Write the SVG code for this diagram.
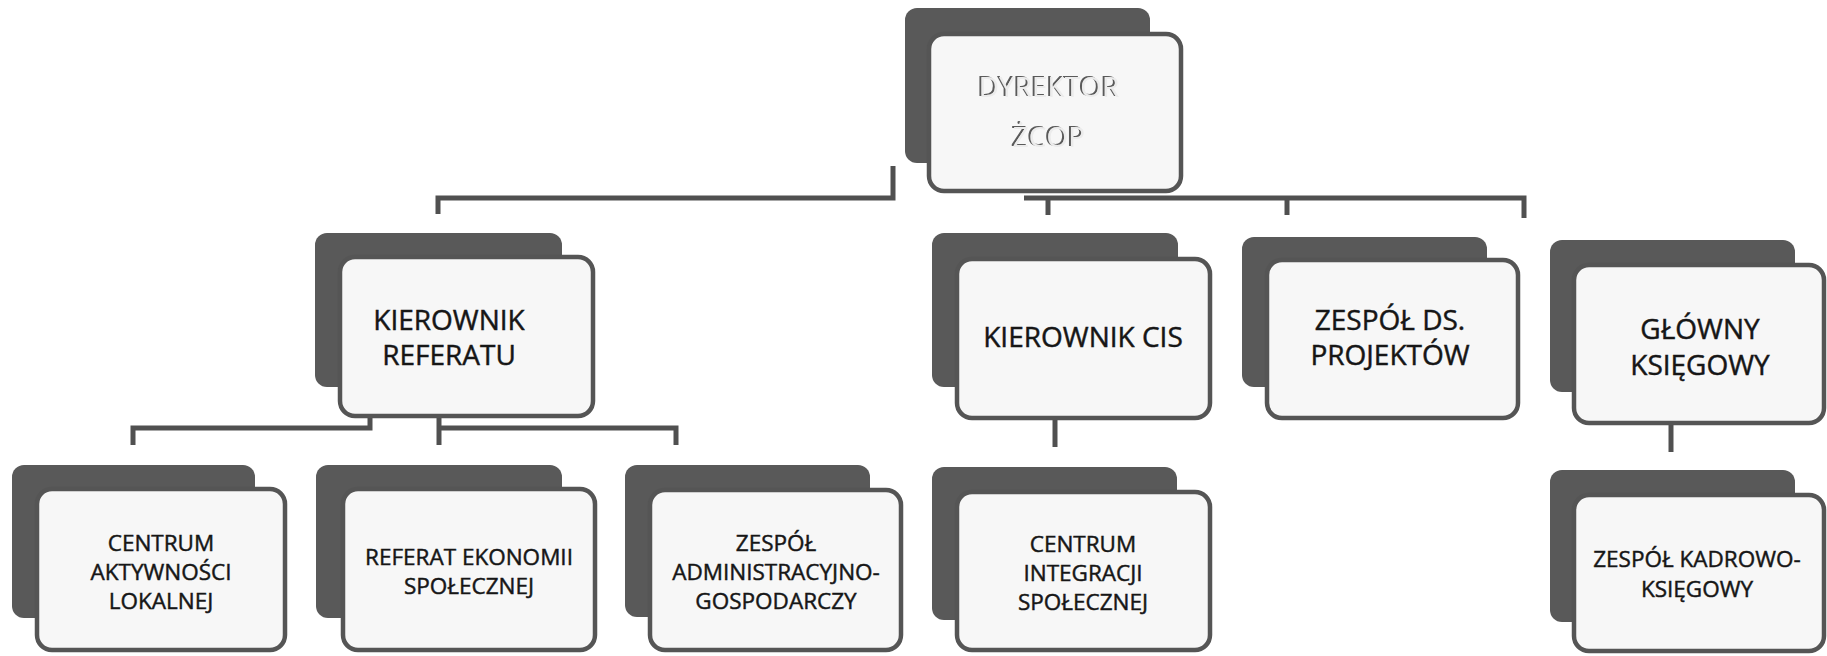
<svg xmlns="http://www.w3.org/2000/svg" width="1827" height="656" viewBox="0 0 1827 656">
<defs>
<style>
.bg{fill:#ffffff}
.dk{fill:#595959}
.wt{fill:#f7f7f7;stroke:#555555;stroke-width:4.5}
.t{font-family:"Open Sans","Liberation Sans",sans-serif;fill:#161616;stroke:#161616;stroke-width:0.45;text-anchor:middle}
.L{font-size:28px}
.S{font-size:22.5px}
.emb{font-family:"Open Sans","Liberation Sans",sans-serif;font-size:28px;fill:#ececec;text-anchor:middle}
.c{fill:none;stroke:#505050;stroke-width:5;stroke-linejoin:miter}
</style>
<filter id="engrave" x="-5%" y="-20%" width="110%" height="140%">
<feOffset in="SourceAlpha" dx="-1.6" dy="-1.2" result="off"/>
<feFlood flood-color="#5a5a5a" result="fl"/>
<feComposite in="fl" in2="off" operator="in" result="sh"/>
<feMerge><feMergeNode in="sh"/><feMergeNode in="SourceGraphic"/></feMerge>
</filter>
</defs>
<rect class="bg" x="0" y="0" width="1827" height="656"/>

<g id="connectors">
<path class="c" d="M893,166 V198 H438 V214"/>
<path class="c" d="M1024,198 H1524 V218"/>
<path class="c" d="M1048,198 V215"/>
<path class="c" d="M1287,198 V215"/>
<path class="c" d="M370,414 V428 H133 V445"/>
<path class="c" d="M439,414 V445"/>
<path class="c" d="M439,428 H676 V445"/>
<path class="c" d="M1055,418 V447"/>
<path class="c" d="M1671,424 V452"/>
</g>

<g id="node-dyrektor">
<rect class="dk" x="905" y="8" width="245" height="155" rx="12"/>
<rect class="wt" x="929" y="34" width="252" height="157" rx="15"/>
<text class="emb" filter="url(#engrave)" x="1049" y="97">DYREKTOR</text>
<text class="emb" filter="url(#engrave)" x="1049" y="147">ŻCOP</text>
</g>

<g id="node-kierownik-referatu">
<rect class="dk" x="315" y="233" width="247" height="154" rx="12"/>
<rect class="wt" x="340" y="257" width="253" height="159" rx="15"/>
<text class="t L" x="449" y="330">KIEROWNIK</text>
<text class="t L" x="449" y="365">REFERATU</text>
</g>

<g id="node-kierownik-cis">
<rect class="dk" x="932" y="233" width="246" height="154" rx="12"/>
<rect class="wt" x="957" y="259" width="253" height="159" rx="15"/>
<text class="t L" x="1083" y="347">KIEROWNIK CIS</text>
</g>

<g id="node-zespol-projektow">
<rect class="dk" x="1242" y="237" width="245" height="150" rx="12"/>
<rect class="wt" x="1267" y="260" width="251" height="158" rx="15"/>
<text class="t L" x="1390" y="330">ZESPÓŁ DS.</text>
<text class="t L" x="1390" y="365">PROJEKTÓW</text>
</g>

<g id="node-glowny-ksiegowy">
<rect class="dk" x="1550" y="240" width="245" height="152" rx="12"/>
<rect class="wt" x="1574" y="265" width="250" height="158" rx="15"/>
<text class="t L" x="1700" y="339">GŁÓWNY</text>
<text class="t L" x="1700" y="375">KSIĘGOWY</text>
</g>

<g id="node-centrum-aktywnosci">
<rect class="dk" x="12" y="465" width="243" height="153" rx="12"/>
<rect class="wt" x="37" y="489" width="248" height="161" rx="15"/>
<text class="t S" x="161" y="551">CENTRUM</text>
<text class="t S" x="161" y="580">AKTYWNOŚCI</text>
<text class="t S" x="161" y="609">LOKALNEJ</text>
</g>

<g id="node-referat-ekonomii">
<rect class="dk" x="316" y="465" width="246" height="153" rx="12"/>
<rect class="wt" x="343" y="489" width="252" height="161" rx="15"/>
<text class="t S" x="469" y="565">REFERAT EKONOMII</text>
<text class="t S" x="469" y="594">SPOŁECZNEJ</text>
</g>

<g id="node-zespol-administracyjny">
<rect class="dk" x="625" y="465" width="245" height="152" rx="12"/>
<rect class="wt" x="650" y="490" width="251" height="160" rx="15"/>
<text class="t S" x="776" y="551">ZESPÓŁ</text>
<text class="t S" x="776" y="580">ADMINISTRACYJNO-</text>
<text class="t S" x="776" y="609">GOSPODARCZY</text>
</g>

<g id="node-centrum-integracji">
<rect class="dk" x="932" y="467" width="245" height="153" rx="12"/>
<rect class="wt" x="957" y="492" width="253" height="158" rx="15"/>
<text class="t S" x="1083" y="552">CENTRUM</text>
<text class="t S" x="1083" y="581">INTEGRACJI</text>
<text class="t S" x="1083" y="610">SPOŁECZNEJ</text>
</g>

<g id="node-zespol-kadrowo">
<rect class="dk" x="1550" y="470" width="245" height="152" rx="12"/>
<rect class="wt" x="1574" y="495" width="250" height="156" rx="15"/>
<text class="t S" x="1697" y="567">ZESPÓŁ KADROWO-</text>
<text class="t S" x="1697" y="597">KSIĘGOWY</text>
</g>
</svg>
